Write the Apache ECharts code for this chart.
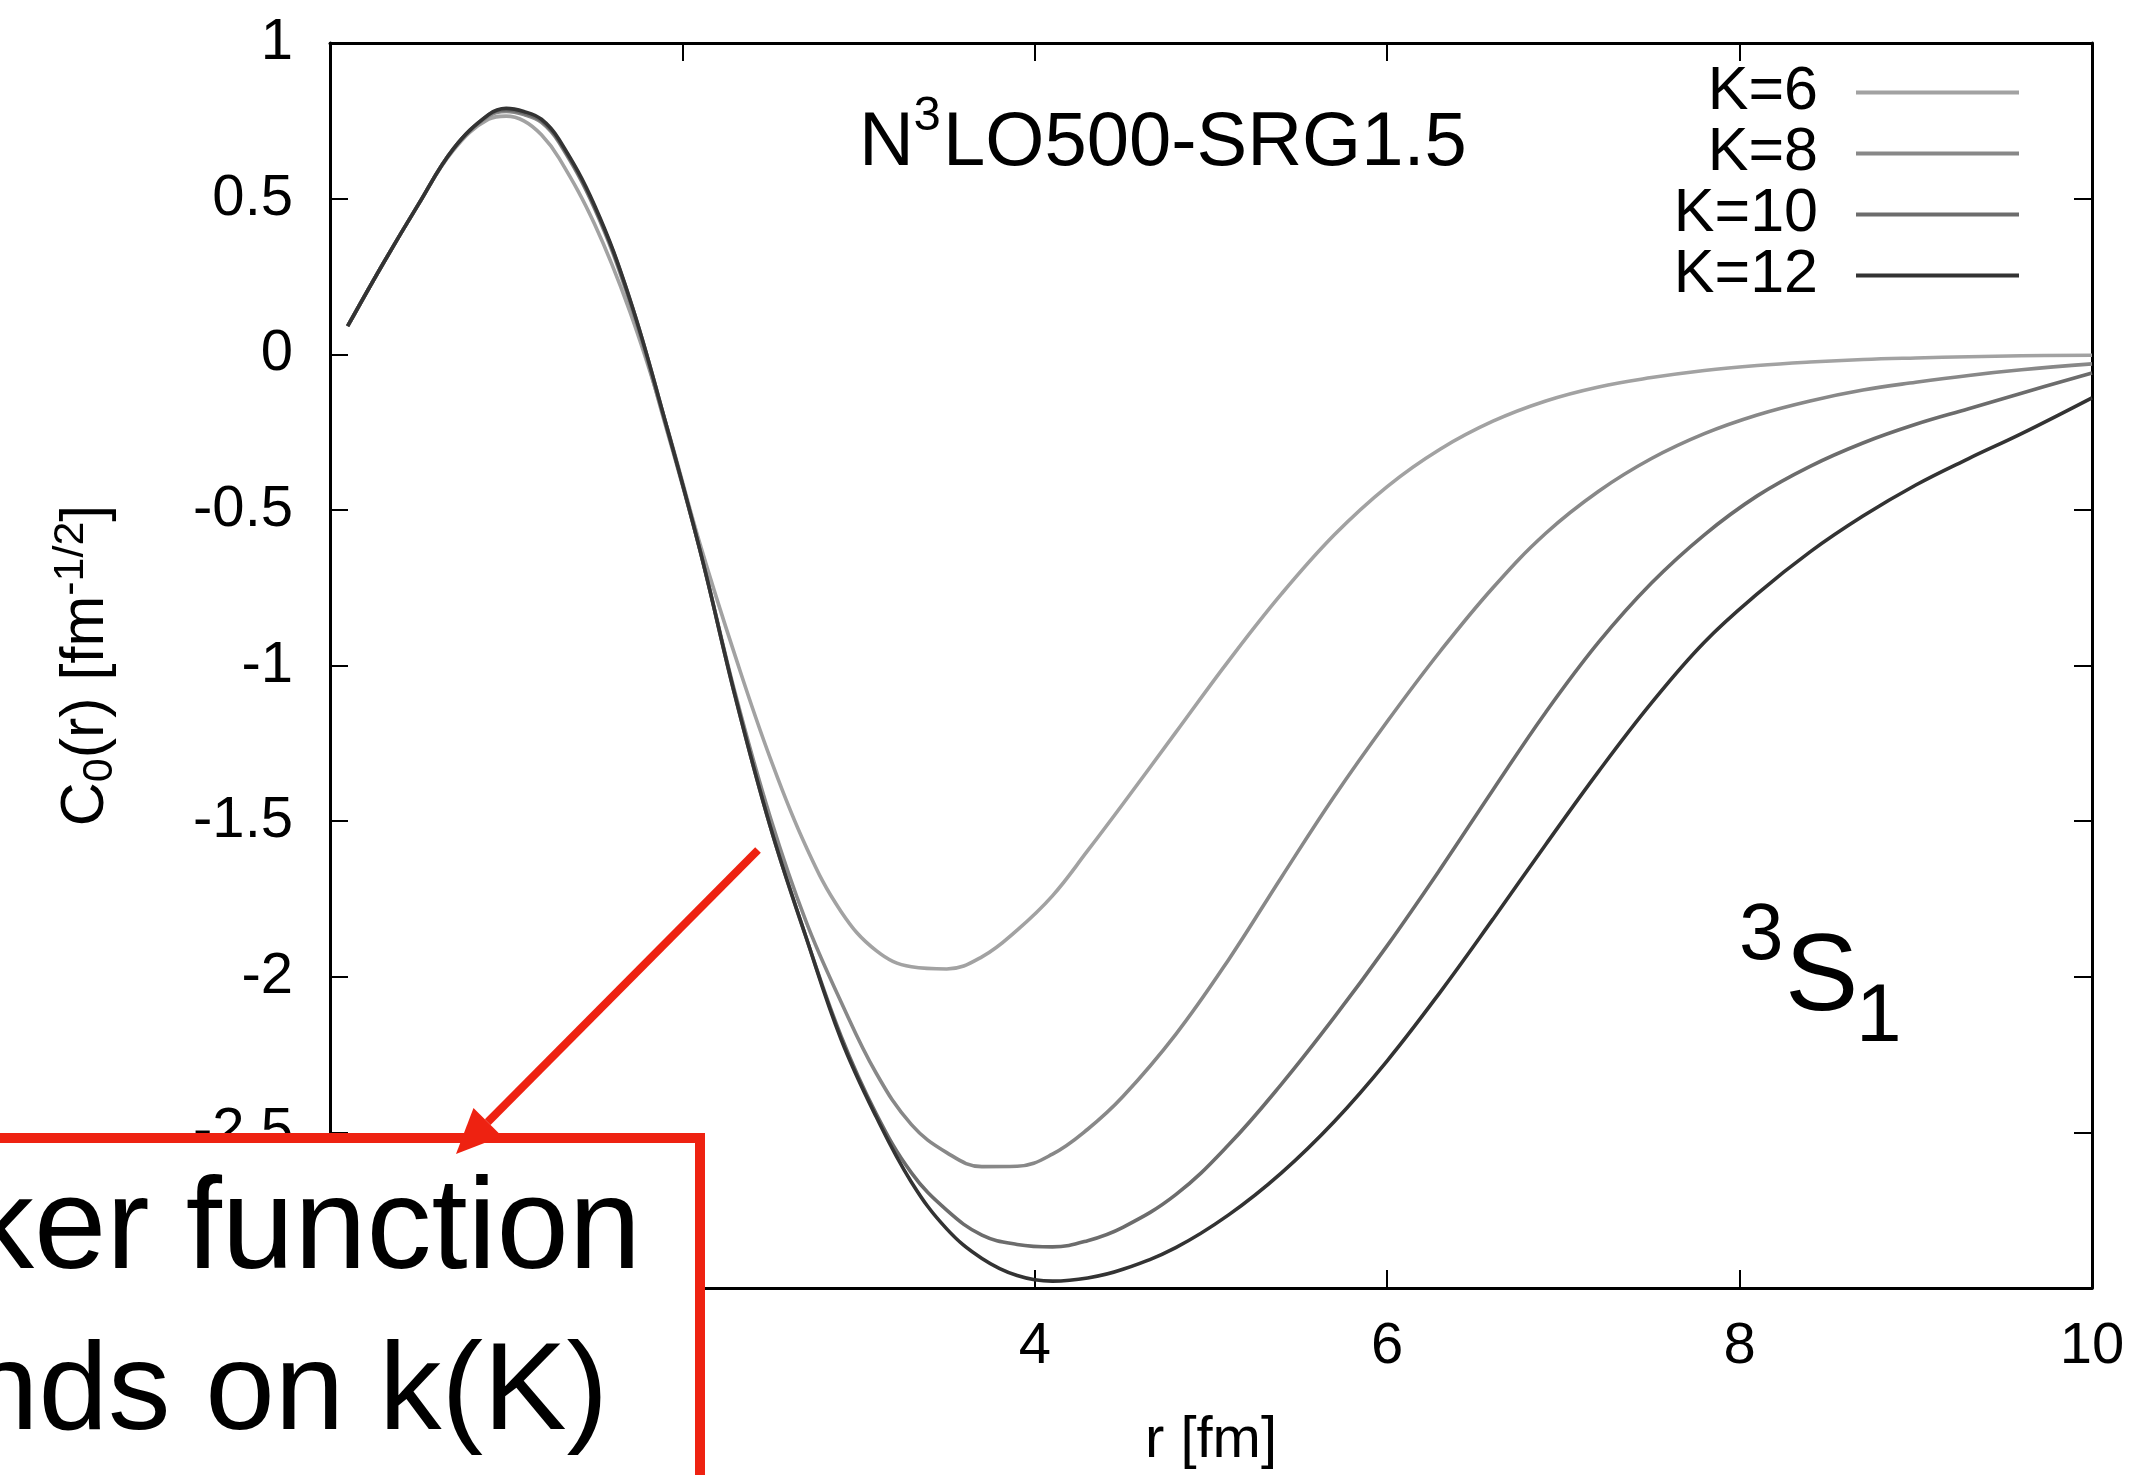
<!DOCTYPE html>
<html><head><meta charset="utf-8">
<script src="https://cdn.jsdelivr.net/npm/echarts@6/dist/echarts.min.js"></script>
<style>html,body{margin:0;padding:0;background:#fff;}#c{width:2137px;height:1475px;}</style>
</head><body><div id="c"></div>
<script>
// r [fm] sample points
const rValues = [0.1,0.3,0.5,0.7,0.9,1.0,1.1,1.2,1.3,1.5,1.7,1.9,2.1,2.3,2.5,2.7,2.9,3.1,3.3,3.5,3.7,3.9,4.1,4.3,4.5,4.8,5.1,5.4,5.7,6.0,6.3,6.6,6.9,7.2,7.5,7.8,8.1,8.4,8.7,9.0,9.3,9.6,10.0];
const k6  = [0.09,0.29,0.48,0.655,0.755,0.765,0.75,0.705,0.63,0.42,0.14,-0.21,-0.61,-0.97,-1.30,-1.58,-1.79,-1.916,-1.968,-1.975,-1.936,-1.85,-1.74,-1.595,-1.445,-1.215,-0.985,-0.77,-0.58,-0.425,-0.305,-0.215,-0.15,-0.105,-0.075,-0.052,-0.036,-0.025,-0.017,-0.012,-0.008,-0.005,-0.003];
const k8  = [0.09,0.29,0.48,0.66,0.765,0.78,0.77,0.745,0.68,0.47,0.17,-0.22,-0.63,-1.09,-1.49,-1.82,-2.08,-2.31,-2.475,-2.565,-2.61,-2.609,-2.57,-2.49,-2.385,-2.185,-1.945,-1.68,-1.42,-1.18,-0.955,-0.75,-0.575,-0.44,-0.335,-0.255,-0.195,-0.15,-0.115,-0.09,-0.068,-0.05,-0.031];
const k10 = [0.09,0.29,0.48,0.66,0.77,0.785,0.775,0.75,0.685,0.475,0.18,-0.21,-0.63,-1.10,-1.52,-1.87,-2.19,-2.44,-2.63,-2.75,-2.83,-2.86,-2.868,-2.848,-2.805,-2.70,-2.54,-2.345,-2.13,-1.90,-1.655,-1.40,-1.15,-0.925,-0.735,-0.58,-0.455,-0.36,-0.285,-0.225,-0.175,-0.125,-0.06];
const k12 = [0.09,0.29,0.48,0.66,0.77,0.79,0.78,0.755,0.69,0.48,0.18,-0.21,-0.63,-1.10,-1.52,-1.87,-2.20,-2.45,-2.66,-2.81,-2.905,-2.96,-2.978,-2.968,-2.94,-2.87,-2.765,-2.63,-2.465,-2.27,-2.05,-1.815,-1.575,-1.34,-1.12,-0.925,-0.77,-0.635,-0.52,-0.42,-0.335,-0.255,-0.14];
const seriesNames = ['K=6','K=8','K=10','K=12'];
const seriesValues = [k6, k8, k10, k12];
const seriesColors = ['#a2a2a2','#888888','#6c6c6c','#333333'];

const FONT = "'Liberation Sans', Arial, Helvetica, sans-serif";
const RED = '#ee2211';
const mid = (b, f) => b - 0.3465 * f; // baseline -> middle y

const chart = echarts.init(document.getElementById('c'), null, {renderer: 'canvas'});

const axisLine = {show: true, onZero: false, lineStyle: {color: '#000', width: 3}};
const axisTick = {show: true, inside: true, length: 18, lineStyle: {color: '#000', width: 2}};

const option = {
  animation: false,
  backgroundColor: '#ffffff',
  grid: {left: 330, right: 45, top: 43, bottom: 182, containLabel: false},
  legend: {
    orient: 'vertical', right: 118, top: 62, padding: 0, itemGap: 0,
    itemWidth: 163, itemHeight: 4, icon: 'rect', align: 'right', selectedMode: false,
    textStyle: {fontSize: 61, fontFamily: FONT, color: '#000', lineHeight: 60, padding: [0, 33, 0, 0]},
    data: seriesNames
  },
  xAxis: [
    {type: 'value', min: 0, max: 10, interval: 2, position: 'bottom',
     axisLine, axisTick, splitLine: {show: false},
     axisLabel: {fontSize: 58, color: '#000', fontFamily: FONT, margin: 30},
     name: 'r [fm]', nameLocation: 'middle', nameGap: 124,
     nameTextStyle: {fontSize: 58, color: '#000', fontFamily: FONT}},
    {type: 'value', min: 0, max: 10, interval: 2, position: 'top',
     axisLine, axisTick, splitLine: {show: false}, axisLabel: {show: false}}
  ],
  yAxis: [
    {type: 'value', min: -3, max: 1, interval: 0.5, position: 'left',
     axisLine, axisTick, splitLine: {show: false},
     axisLabel: {fontSize: 58, color: '#000', fontFamily: FONT, margin: 37},
     name: '{m|C}{s|0}{m|(r) [fm}{p|-1/2}{m|]}', nameLocation: 'middle', nameGap: 208, nameRotate: 90,
     nameTextStyle: {color: '#000', fontFamily: FONT, fontSize: 61,
       rich: {
         m: {fontSize: 61, lineHeight: 72, fontFamily: FONT, color: '#000'},
         s: {fontSize: 43, lineHeight: 38, verticalAlign: 'bottom', fontFamily: FONT, color: '#000'},
         p: {fontSize: 43, lineHeight: 38, verticalAlign: 'top', fontFamily: FONT, color: '#000'}
       }}},
    {type: 'value', min: -3, max: 1, interval: 0.5, position: 'right',
     axisLine, axisTick, splitLine: {show: false}, axisLabel: {show: false}}
  ],
  series: seriesNames.map((n, i) => ({
    name: n, type: 'line', xAxisIndex: 0, yAxisIndex: 0,
    data: rValues.map((r, j) => [r, seriesValues[i][j]]),
    showSymbol: false, symbol: 'none', smooth: 0.4,
    lineStyle: {color: seriesColors[i], width: 3.6},
    itemStyle: {color: seriesColors[i]},
    z: 2 + i
  })),
  graphic: [
    {type: 'text', x: 859, y: mid(170, 76), z: 50, style: {text: 'N', font: '76px ' + FONT, fill: '#000', align: 'left', verticalAlign: 'middle'}},
    {type: 'text', x: 913.5, y: mid(133, 49), z: 50, style: {text: '3', font: '49px ' + FONT, fill: '#000', align: 'left', verticalAlign: 'middle'}},
    {type: 'text', x: 943, y: mid(170, 76), z: 50, style: {text: 'LO500-SRG1.5', font: '76px ' + FONT, fill: '#000', align: 'left', verticalAlign: 'middle'}},
    {type: 'text', x: 1739, y: mid(965, 80), z: 50, style: {text: '3', font: '80px ' + FONT, fill: '#000', align: 'left', verticalAlign: 'middle'}},
    {type: 'text', x: 1785, y: mid(1018, 110), z: 50, style: {text: 'S', font: '110px ' + FONT, fill: '#000', align: 'left', verticalAlign: 'middle'}},
    {type: 'text', x: 1856, y: mid(1047, 82), z: 50, style: {text: '1', font: '82px ' + FONT, fill: '#000', align: 'left', verticalAlign: 'middle'}},
    {type: 'rect', z: 100, shape: {x: -20, y: 1138, width: 720, height: 400}, style: {fill: '#fff', stroke: RED, lineWidth: 10}},
    {type: 'line', z: 101, shape: {x1: 758, y1: 850, x2: 487.7, y2: 1122.1}, style: {stroke: RED, lineWidth: 8}},
    {type: 'polygon', z: 101, shape: {points: [[456, 1154], [501.9, 1136.2], [473.5, 1108.0]]}, style: {fill: RED}},
    {type: 'text', x: -31, y: mid(1277, 130), z: 102, style: {text: 'ker function', font: '130px ' + FONT, fill: '#000', align: 'left', verticalAlign: 'middle'}},
    {type: 'text', x: -31, y: mid(1438, 125), z: 102, style: {text: 'nds on k(K)', font: '125px ' + FONT, fill: '#000', align: 'left', verticalAlign: 'middle'}}
  ]
};
chart.setOption(option);
</script></body></html>
